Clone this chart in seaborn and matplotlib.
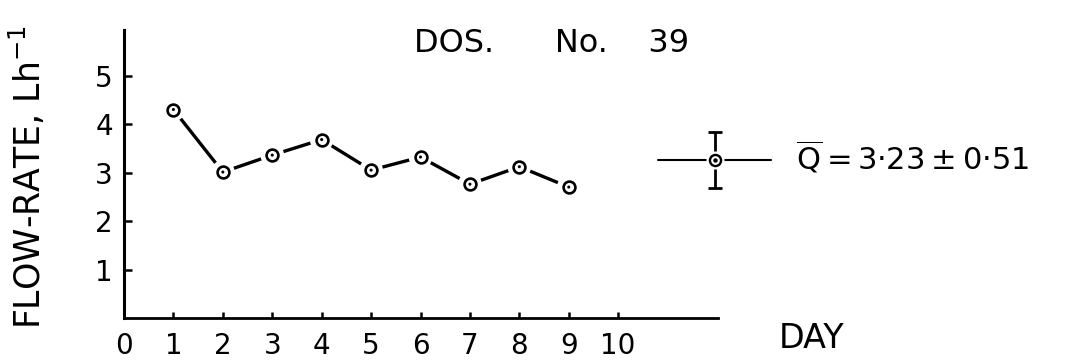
import numpy as np
import pandas as pd
import matplotlib
matplotlib.use("Agg")
import matplotlib.pyplot as plt
import seaborn as sns
from matplotlib.lines import Line2D
from matplotlib.collections import LineCollection
from matplotlib.container import ErrorbarContainer
from matplotlib.legend_handler import HandlerErrorbar, HandlerTuple

# Daily flow-rate readings for dosimeter No. 39
DAYS = [1, 2, 3, 4, 5, 6, 7, 8, 9]
FLOW = [4.30, 3.01, 3.36, 3.68, 3.05, 3.32, 2.76, 3.12, 2.70]
MEAN = 3.23
SD = 0.51
X_TICKS = [0, 1, 2, 3, 4, 5, 6, 7, 8, 9, 10]
Y_TICKS = [1, 2, 3, 4, 5]
TITLE = "DOS.      No.    39"

sns.set_theme(style="white")
plt.rcParams["font.family"] = ["DejaVu Sans"]
plt.rcParams["mathtext.fontset"] = "dejavusans"
plt.rcParams["text.color"] = "black"
plt.rcParams["axes.labelcolor"] = "black"

df = pd.DataFrame({"day": DAYS, "flow": FLOW})

fig = plt.figure(figsize=(10.72, 3.61), dpi=100)
ax = fig.add_axes([124 / 1072, 43 / 361, (718 - 124) / 1072, (318 - 30) / 361])

# connecting line, then a white halo so segments stop short of each point
sns.lineplot(data=df, x="day", y="flow", ax=ax, color="black", lw=2.4, zorder=2)
sns.scatterplot(data=df, x="day", y="flow", ax=ax, marker="o", s=17 ** 2,
                color="white", edgecolor="none", linewidth=0, zorder=3)
sns.scatterplot(data=df, x="day", y="flow", ax=ax, marker="o", s=8.5 ** 2,
                facecolor="white", edgecolor="black", linewidth=1.9, zorder=4)
sns.scatterplot(data=df, x="day", y="flow", ax=ax, marker="o", s=2.2 ** 2,
                color="black", edgecolor="none", linewidth=0, zorder=5)

ax.set_xlim(0, 12.02)
ax.set_ylim(0, 5.94)
ax.set_xticks(X_TICKS)
ax.set_xticklabels([str(t) for t in X_TICKS])
ax.set_yticks(Y_TICKS)
ax.set_yticklabels([str(t) for t in Y_TICKS])

for side in ("top", "right"):
    ax.spines[side].set_visible(False)
ax.spines["left"].set_linewidth(2.2)
ax.spines["bottom"].set_linewidth(2.0)
ax.spines["left"].set_color("black")
ax.spines["bottom"].set_color("black")

ax.tick_params(axis="y", direction="in", length=6, width=1.8, pad=8,
               labelsize=20, colors="black", left=True)
ax.tick_params(axis="x", direction="in", length=4, width=1.8, pad=10,
               labelsize=20, colors="black", bottom=True)

ax.set_ylabel("FLOW-RATE, Lh$^{-1}$", fontsize=25, color="black")
ax.yaxis.set_label_coords(-0.128, 0.49)
ax.set_xlabel("DAY", fontsize=24, color="black")
ax.xaxis.set_label_coords(1.158, -0.015)

ax.text(0.720, 0.924, TITLE, transform=ax.transAxes, ha="center",
        va="baseline", fontsize=23, color="black")

# legend key: mean with error bar
bar_line = Line2D([], [], color="black", lw=1.5)
caps = (Line2D([], [], color="black", marker="_", ms=10, mew=2.0, ls="none"),
        Line2D([], [], color="black", marker="_", ms=10, mew=2.0, ls="none"))
bars = (LineCollection([], colors="black", linewidths=2.0),)
eb = ErrorbarContainer((bar_line, caps, bars), has_xerr=False, has_yerr=True)
halo = Line2D([], [], ls="none", marker="o", ms=12, mfc="white", mec="white")
ring = Line2D([], [], ls="none", marker="o", ms=8, mfc="white", mec="black", mew=1.7)
dot = Line2D([], [], ls="none", marker="o", ms=2.2, mfc="black", mec="black")

thin = "\u2009"
label = ("$\\overline{\\mathrm{Q}}$" + thin + "=" + thin
         + f"{MEAN:.2f}".replace(".", "·") + thin + "±" + thin
         + f"{SD:.2f}".replace(".", "·"))
ax.legend([(eb, halo, ring, dot)], [label],
          handler_map={ErrorbarContainer: HandlerErrorbar(yerr_size=0.92),
                       tuple: HandlerTuple(ndivide=1, pad=0)},
          loc="center left", bbox_to_anchor=(658 / 1072, (361 - 158) / 361),
          bbox_transform=fig.transFigure, frameon=False, fontsize=22,
          labelcolor="black", handlelength=3.7, handletextpad=0.8,
          borderpad=0, borderaxespad=0, numpoints=1)

fig.savefig("out.png", dpi=100)
